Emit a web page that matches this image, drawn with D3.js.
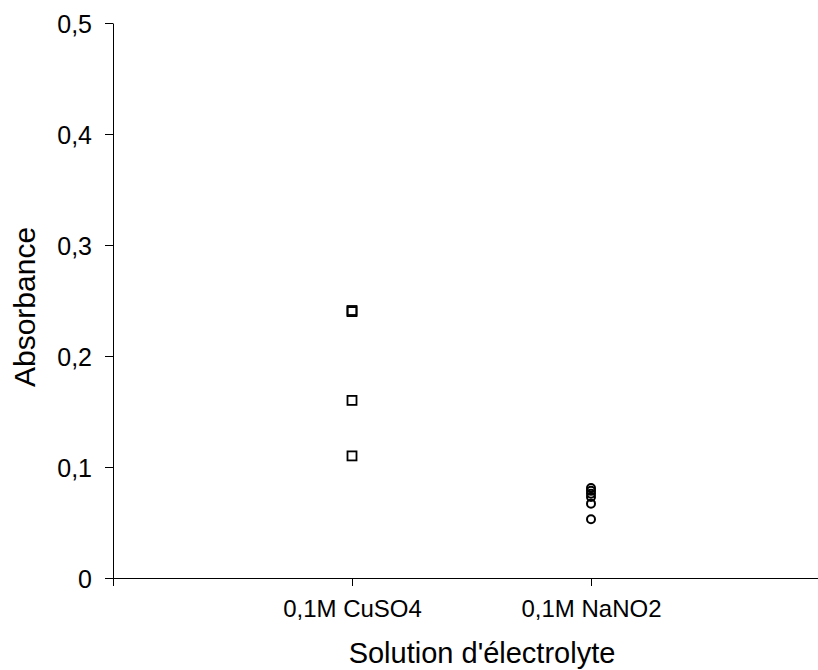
<!DOCTYPE html>
<html>
<head>
<meta charset="utf-8">
<script src="https://cdn.jsdelivr.net/npm/d3@7"></script>
<style>
  body { margin: 0; background: #fff; }
  svg { display: block; font-family: "Liberation Sans", Arial, sans-serif; }
</style>
</head>
<body>
<svg id="chart" width="818" height="670"></svg>
<script>
// categories on the x axis (positions 1 and 2)
var categories = ["0,1M CuSO4", "0,1M NaNO2"];
// measured absorbance values per category
var cuso4Values = [0.241, 0.240, 0.160, 0.110];
var nano2Values = [0.081, 0.0785, 0.076, 0.073, 0.067, 0.053];
var yTicks = [0, 0.1, 0.2, 0.3, 0.4, 0.5];

var svg = d3.select("#chart");

var x = d3.scaleLinear().domain([0, 3]).range([113, 830]);
var y = d3.scaleLinear().domain([0, 0.5]).range([578, 23]);

var fmt = function (d) { return d === 0 ? "0" : d3.format(".1f")(d).replace(".", ","); };

// y axis
var gy = svg.append("g")
    .attr("transform", "translate(" + x(0) + ",0)")
    .call(d3.axisLeft(y).tickValues(yTicks).tickFormat(fmt).tickSizeInner(8).tickSizeOuter(0));
gy.select(".domain").attr("stroke", "#000").attr("stroke-width", 1);
gy.selectAll("text").attr("font-size", 25).attr("fill", "#000").attr("x", -21)
    .attr("dy", "0.36em")
    .attr("font-family", "Liberation Sans, Arial, sans-serif");

// x axis
var gx = svg.append("g")
    .attr("transform", "translate(0," + y(0) + ")")
    .call(d3.axisBottom(x).tickValues([0, 1, 2]).tickSizeInner(8).tickSizeOuter(0)
        .tickFormat(function (d) { return d >= 1 ? categories[d - 1] : ""; }));
gx.select(".domain").attr("stroke", "#000").attr("stroke-width", 1);
gx.selectAll("text").attr("font-size", 24).attr("fill", "#000").attr("y", 39).attr("dy", 0)
    .attr("font-family", "Liberation Sans, Arial, sans-serif");

// axis titles
svg.append("text")
    .attr("transform", "translate(35,307)rotate(-90)")
    .attr("text-anchor", "middle")
    .attr("font-size", 30)
    .text("Absorbance");
svg.append("text")
    .attr("x", 482).attr("y", 663)
    .attr("text-anchor", "middle")
    .attr("font-size", 29)
    .text("Solution d'électrolyte");

// CuSO4 squares
svg.selectAll(".sq")
    .data(cuso4Values)
    .enter().append("rect")
    .attr("class", "sq")
    .attr("x", x(1) - 4.5)
    .attr("y", function (d) { return y(d) - 4.5; })
    .attr("width", 9).attr("height", 9)
    .attr("fill", "none")
    .attr("stroke", "#000")
    .attr("stroke-width", 1.8);

// NaNO2 circles
svg.selectAll(".ci")
    .data(nano2Values)
    .enter().append("circle")
    .attr("class", "ci")
    .attr("cx", x(2))
    .attr("cy", function (d) { return y(d); })
    .attr("r", 4)
    .attr("fill", "none")
    .attr("stroke", "#000")
    .attr("stroke-width", 2);
</script>
</body>
</html>
